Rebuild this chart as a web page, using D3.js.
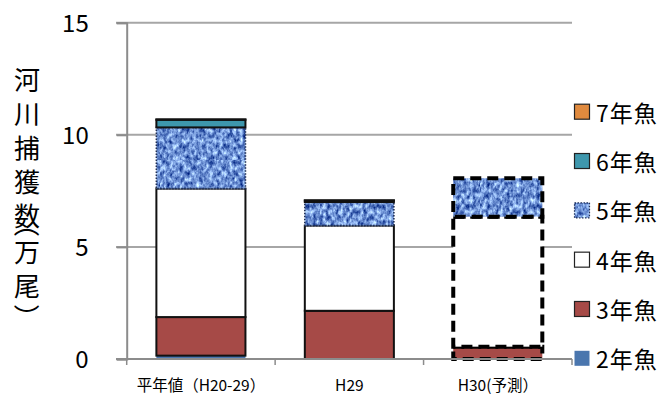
<!DOCTYPE html>
<html>
<head>
<meta charset="utf-8">
<script src="https://cdn.jsdelivr.net/npm/d3@7"></script>
<style>
  html, body { margin: 0; padding: 0; background: #fff; }
  svg { display: block; }
  text { font-family: "Noto Sans CJK JP", "Noto Sans", sans-serif; fill: #000; }
</style>
</head>
<body>
<svg id="chart" width="666" height="394"></svg>
<script>
// Categories and age-class series (catch, 10,000 fish)
const categories = ["平年値（H20-29）", "H29", "H30(予測）"];
const ageKeys = ["2年魚", "3年魚", "4年魚", "5年魚", "6年魚", "7年魚"];
const age2 = [0.15, 0, 0];
const age3 = [1.72, 2.15, 0.55];
const age4 = [5.73, 3.80, 5.80];
const age5 = [2.73, 1.05, 1.71];
const age6 = [0.34, 0.06, 0];
const age7 = [0.02, 0.02, 0];
const yTicks = [0, 5, 10, 15];
const yTitle = "河川捕獲数（万尾）";
const forecastCategory = "H30(予測）";

const series = [age2, age3, age4, age5, age6, age7];
const rows = categories.map((c, i) => {
  const r = { category: c };
  ageKeys.forEach((k, j) => { r[k] = series[j][i]; });
  return r;
});

const fills = {
  "2年魚": "#4a76ae",
  "3年魚": "#a64a47",
  "4年魚": "#ffffff",
  "5年魚": "url(#denim)",
  "6年魚": "#3e97ad",
  "7年魚": "#e08a3e"
};

const svg = d3.select("#chart");
const defs = svg.append("defs");

// Blue woven texture for the 5-year class
const filt = defs.append("filter").attr("id", "denimTex")
  .attr("x", 0).attr("y", 0).attr("width", 1).attr("height", 1)
  .attr("color-interpolation-filters", "sRGB");
filt.append("feTurbulence").attr("type", "fractalNoise")
  .attr("baseFrequency", "0.3 0.18").attr("numOctaves", 3).attr("seed", 11).attr("result", "n");
filt.append("feColorMatrix").attr("in", "n").attr("type", "matrix")
  .attr("values", "1.2 0 0 0 -0.17  1.2 0 0 0 -0.03  0.9 0 0 0 0.38  0 0 0 0 1").attr("result", "c");
filt.append("feComposite").attr("in", "c").attr("in2", "SourceAlpha").attr("operator", "in");
const pat = defs.append("pattern").attr("id", "denim").attr("patternUnits", "userSpaceOnUse")
  .attr("width", 160).attr("height", 160);
pat.append("rect").attr("width", 160).attr("height", 160).attr("fill", "#6a8fd0").attr("filter", "url(#denimTex)");

const x = d3.scaleBand().domain(categories).range([126.7, 572]).paddingInner(0.4).paddingOuter(0.2);
const y = d3.scaleLinear().domain([0, 15]).range([359, 22.7]);

// Gridlines
svg.append("g").selectAll("line").data(yTicks.filter(t => t > 0)).join("line")
  .attr("x1", 116).attr("x2", 572)
  .attr("y1", d => y(d)).attr("y2", d => y(d))
  .attr("stroke", "#a6a6a6").attr("stroke-width", 2);

// Y axis
const yAxis = svg.append("g").attr("transform", "translate(126.7,0)")
  .call(d3.axisLeft(y).tickValues(yTicks).tickSize(10).tickPadding(28).tickFormat(d3.format("d")));
yAxis.select(".domain").attr("stroke", "#8c8c8c").attr("stroke-width", 2);
yAxis.selectAll(".tick line").attr("stroke", "#8c8c8c").attr("stroke-width", 2);
yAxis.selectAll(".tick text").attr("font-size", 24).attr("font-family", "'Noto Sans', sans-serif")
  .attr("dy", "0.36em");

// Bars
const stacked = d3.stack().keys(ageKeys)(rows);
const barG = svg.append("g");
stacked.forEach(layer => {
  const key = layer.key;
  layer.forEach(seg => {
    const cat = seg.data.category;
    const v = seg[1] - seg[0];
    if (v <= 0) return;
    const forecast = cat === forecastCategory;
    const rx = x(cat), rw = x.bandwidth();
    const y0 = y(seg[1]), h = y(seg[0]) - y(seg[1]);
    const r = barG.append("rect")
      .attr("x", rx).attr("y", y0).attr("width", rw).attr("height", h)
      .attr("fill", fills[key]);
    if (forecast) {
      r.attr("stroke", "#000").attr("stroke-width", 4).attr("stroke-dasharray", "11,6");
    } else if (key === "2年魚") {
      // no outline
    } else if (key === "5年魚") {
      r.attr("stroke", "#1f2f55").attr("stroke-width", 1.6).attr("stroke-dasharray", "1.5,1.5");
    } else {
      r.attr("stroke", "#111").attr("stroke-width", 2);
    }
  });
});

// X axis
const xAxisG = svg.append("g");
xAxisG.append("line").attr("x1", 116).attr("x2", 572).attr("y1", y(0)).attr("y2", y(0))
  .attr("stroke", "#8c8c8c").attr("stroke-width", 2);
const bounds = [x.range()[0]].concat(categories.map(c => x(c) - x.step() * x.paddingInner() / 2 + x.step()));
xAxisG.selectAll("line.tk").data(bounds).join("line").attr("class", "tk")
  .attr("x1", d => d).attr("x2", d => d).attr("y1", y(0)).attr("y2", y(0) + 6)
  .attr("stroke", "#8c8c8c").attr("stroke-width", 1.5);
xAxisG.selectAll("text").data(categories).join("text")
  .attr("x", d => x(d) + x.bandwidth() / 2).attr("y", 384)
  .attr("text-anchor", "middle").attr("dominant-baseline", "central")
  .attr("font-size", 15.5).text(d => d);

// Y axis title: one text element, one glyph per line; brackets turned 90° into vertical form
const tfs = 26, tcx = 27, asc = 0.88 * tfs;
const isParen = ch => ch === "（" || ch === "）";
const chars = Array.from(yTitle);
let cy = 80;
const xs = [], ys = [], rots = [];
chars.forEach((ch, i) => {
  if (i > 0) cy += (isParen(ch) || isParen(chars[i - 1])) ? 18 : 34;
  if (isParen(ch)) {
    const shift = ch === "（" ? -10 : 13;
    xs.push(tcx - (asc - tfs / 2));
    ys.push(cy + shift - tfs / 2);
    rots.push(90);
  } else {
    xs.push(tcx - tfs / 2);
    ys.push(cy + (asc - tfs / 2));
    rots.push(0);
  }
});
svg.append("text")
  .attr("font-size", tfs)
  .attr("x", xs.join(" "))
  .attr("y", ys.join(" "))
  .attr("rotate", rots.join(" "))
  .text(yTitle);

// Legend (top to bottom: oldest first)
const legendKeys = ageKeys.slice().reverse();
const ly = d3.scalePoint().domain(legendKeys).range([111.7, 358.3]);
const lg = svg.append("g");
legendKeys.forEach(k => {
  const ry = ly(k);
  const sq = lg.append("rect").attr("x", 574.5).attr("y", ry - 7.5).attr("width", 15).attr("height", 15)
    .attr("fill", fills[k]);
  if (k === "5年魚") sq.attr("stroke", "#1f2f55").attr("stroke-width", 1.2).attr("stroke-dasharray", "1.5,1.5");
  else if (k !== "2年魚") sq.attr("stroke", "#222").attr("stroke-width", 1.2);
  lg.append("text").attr("x", 596).attr("y", ry).attr("dominant-baseline", "central")
    .attr("font-size", 23).attr("letter-spacing", 1).text(k);
});
</script>
</body>
</html>
